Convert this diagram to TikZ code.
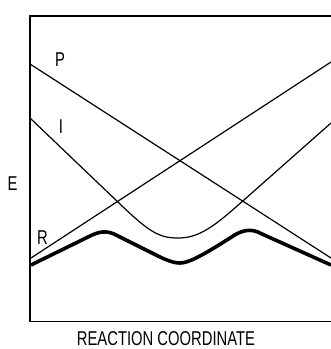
\documentclass[tikz,border=0pt]{standalone}
\usepackage{fontspec}
\setmainfont{Liberation Sans}
\newcommand{\narrowtxt}[1]{\scalebox{0.74}[1]{#1}}

\begin{document}
\begin{tikzpicture}[x=1pt, y=-1pt,
  lbl/.style={inner sep=0pt, font=\fontsize{20}{20}\selectfont},
  thin curve/.style={line width=1.2pt},
  path curve/.style={line width=3.6pt, line join=round}]
\useasboundingbox (0,0) rectangle (331,349);
% frame
\draw[line width=1.3pt] (331,16) -- (30,16) -- (30,321.5) -- (331,321.5);
% diabatic states
\draw[thin curve] (30,64) -- (331,258);
\draw[thin curve] (31,258) -- (331,62);
\draw[thin curve] (30,118) -- (120,204) .. controls (150,233) and (160,238) .. (178,238)
  .. controls (196,238) and (210,230) .. (236,207) -- (331,123);
% adiabatic path
\draw[path curve] (31,265) -- (88,237) .. controls (98,232) and (106,229) .. (118,236)
  -- (158,256) .. controls (170,262) and (176,263) .. (180,263)
  .. controls (188,263) and (200,257) .. (230,238)
  .. controls (240,231) and (250,227) .. (262,234) -- (331,265);
% labels
\foreach \x/\y/\lab in {60/59.5/P, 61/127/I, 42.5/237.5/R, 12.5/184/E} {
  \node[lbl] (\lab) at (\x,\y) {\narrowtxt{\lab}};
}
\node[lbl] (xlabel) at (166,339) {\narrowtxt{REACTION COORDINATE}};
\end{tikzpicture}
\end{document}
